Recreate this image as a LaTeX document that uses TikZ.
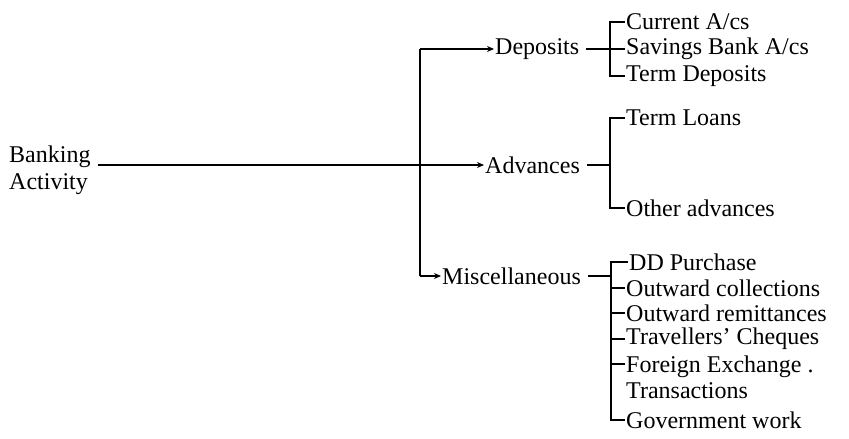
\documentclass[tikz,border=0pt]{standalone}
\usepackage{fontspec}
\setmainfont{Liberation Serif}
\usetikzlibrary{arrows.meta}
\begin{document}
\begin{tikzpicture}[x=1pt,y=-1pt,
  lbl/.style={anchor=west,inner sep=1pt,font=\fontsize{24}{26}\selectfont},
  ln/.style={line width=1.4pt},
  arr/.style={ln,-{Stealth[length=7pt,width=6pt]}}]
\useasboundingbox (0,0) rectangle (849,439);
% root
\node[lbl,align=left,anchor=west] (bank) at (8,170) {Banking\\[1pt]Activity};
% level 1
\node[lbl] (dep) at (494,49) {Deposits};
\node[lbl] (adv) at (484,165) {Advances};
\node[lbl] (misc) at (441,276) {Miscellaneous};
\coordinate (top) at (420,49);
\coordinate (bot) at (420,276);
\coordinate (bstart) at ([xshift=6pt]bank.east |- adv.west);
\draw[arr] (bstart) -- (adv.west);
\draw[ln] (bot) -- (top);
\draw[arr] (top) -- (dep.west);
\draw[arr] (bot) -- (misc.west);
% deposits children
\node[lbl] (d1) at (625,22) {Current A/cs};
\node[lbl] (d2) at (625,49) {Savings Bank A/cs};
\node[lbl] (d3) at (625,76) {Term Deposits};
\coordinate (dj) at (610,49);
\draw[ln] ([xshift=6pt]dep.east) -- (dj);
\draw[ln] (d1.west) -- (610,22) -- (610,76) -- (d3.west);
\draw[ln] (dj) -- (d2.west);
% advances children
\node[lbl] (a1) at (625,118) {Term Loans};
\node[lbl] (a2) at (625,208) {Other advances};
\coordinate (aj) at (610,165);
\draw[ln] ([xshift=6pt]adv.east) -- (aj);
\draw[ln] (a1.west) -- (610,118) -- (610,208) -- (a2.west);
% misc children
\node[lbl] (m1) at (628,262) {DD Purchase};
\node[lbl] (m2) at (625,288) {Outward collections};
\node[lbl] (m3) at (625,313) {Outward remittances};
\node[lbl] (m4) at (625,339) {Travellers' Cheques};
\node[lbl,align=left] (m5) at (625,377) {Foreign Exchange .\\Transactions};
\node[lbl] (m6) at (625,420) {Government work};
\coordinate (mj) at (611,276);
\draw[ln] ([xshift=6pt]misc.east) -- (mj);
\draw[ln] (m1.west) -- (611,262) -- (611,420) -- (m6.west);
\draw[ln] (611,288) -- (m2.west);
\draw[ln] (611,313) -- (m3.west);
\draw[ln] (611,339) -- (m4.west);
\draw[ln] (611,364) -- (m5.west |- 0,364);
\end{tikzpicture}
\end{document}
